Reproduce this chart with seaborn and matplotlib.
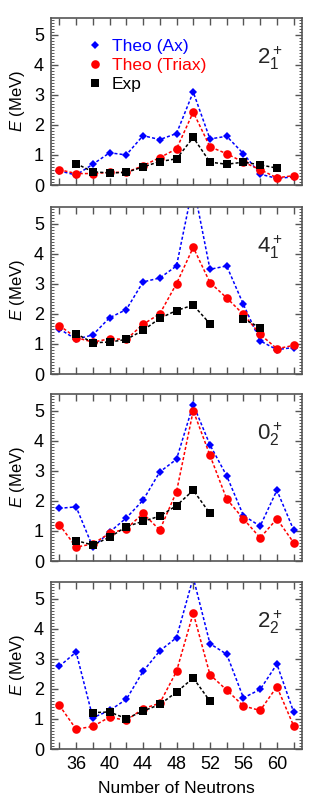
import numpy as np
import pandas as pd
import seaborn as sns
import matplotlib.pyplot as plt
from matplotlib.lines import Line2D
from matplotlib.ticker import MultipleLocator, FuncFormatter

# neutron numbers
neutrons = [34, 36, 38, 40, 42, 44, 46, 48, 50, 52, 54, 56, 58, 60, 62]
nan = np.nan

# 2_1+
ax_21 = [0.47, 0.33, 0.69, 1.07, 1.00, 1.64, 1.51, 1.71, 3.09, 1.53, 1.62, 1.04, 0.36, 0.22, 0.27]
tri_21 = [0.51, 0.38, 0.38, 0.42, 0.42, 0.64, 0.91, 1.20, 2.42, 1.27, 1.04, 0.76, 0.51, 0.24, 0.31]
exp_21 = [nan, 0.71, 0.44, 0.40, 0.42, 0.60, 0.78, 0.87, 1.58, 0.76, 0.69, 0.76, 0.67, 0.56, nan]

# 4_1+
ax_41 = [1.50, 1.15, 1.30, 1.87, 2.14, 3.06, 3.19, 3.59, 6.30, 3.48, 3.59, 2.31, 1.10, 0.81, 0.88]
tri_41 = [1.61, 1.21, 1.06, 1.17, 1.15, 1.65, 2.00, 3.00, 4.21, 3.04, 2.53, 1.98, 1.32, 0.84, 0.95]
exp_41 = [nan, 1.34, 1.04, 1.06, 1.15, 1.45, 1.85, 2.11, 2.29, 1.67, nan, 1.83, 1.54, nan, nan]

# 0_2+
ax_02 = [1.75, 1.80, 0.46, 0.96, 1.43, 2.02, 2.96, 3.38, 5.20, 3.86, 2.83, 1.51, 1.16, 2.35, 1.03]
tri_02 = [1.21, 0.46, 0.57, 0.92, 1.07, 1.58, 1.03, 2.30, 5.00, 3.51, 2.06, 1.40, 0.77, 1.40, 0.61]
exp_02 = [nan, 0.68, 0.53, 0.79, 1.14, 1.32, 1.49, 1.84, 2.35, 1.58, nan, nan, nan, nan, nan]

# 2_2+
ax_22 = [2.75, 3.22, 1.04, 1.28, 1.65, 2.58, 3.26, 3.70, 5.70, 3.50, 3.15, 1.70, 1.98, 2.82, 1.23]
tri_22 = [1.45, 0.66, 0.75, 1.06, 0.95, 1.34, 1.52, 2.58, 4.52, 2.47, 1.96, 1.43, 1.28, 2.07, 0.77]
exp_22 = [nan, nan, 1.21, 1.23, 1.01, 1.26, 1.48, 1.89, 2.36, 1.59, nan, nan, nan, nan, nan]

panels = [
    ("$2^+_1$", ax_21, tri_21, exp_21),
    ("$4^+_1$", ax_41, tri_41, exp_41),
    ("$0^+_2$", ax_02, tri_02, exp_02),
    ("$2^+_2$", ax_22, tri_22, exp_22),
]

sns.set_style("ticks")
plt.rcParams['font.family'] = ['Liberation Sans', 'DejaVu Sans']
plt.rcParams['mathtext.fontset'] = 'custom'
plt.rcParams['mathtext.rm'] = 'Liberation Sans'
plt.rcParams['mathtext.it'] = 'Liberation Sans:italic'

def to_frame(vals):
    # split series at gaps so the dashed line breaks there
    df = pd.DataFrame({'N': neutrons, 'E': vals})
    df['seg'] = df['E'].isna().cumsum()
    return df.dropna()

styles = [
    ('blue', 'D', 4.2, 'Theo (Ax)'),
    ('red', 'o', 6.2, 'Theo (Triax)'),
    ('black', 's', 5.5, 'Exp'),
]

fig = plt.figure(figsize=(3.11, 8.06), dpi=100)
tops = [18, 207, 394, 582]
h = 167
for i, (lab, a, t, e) in enumerate(panels):
    ax = fig.add_axes([51 / 311, 1 - (tops[i] + h) / 806, 251 / 311, h / 806])
    for (col, mk, ms, name), vals in zip(styles, [a, t, e]):
        df = to_frame(vals)
        sns.lineplot(data=df, x='N', y='E', units='seg', estimator=None, ax=ax,
                     color=col, lw=1.1, linestyle=(0, (2, 1.4)),
                     marker=mk, markersize=ms, markeredgewidth=0, legend=False)
    ax.set_xlim(33, 63)
    ax.set_ylim(0, 5.55)
    ax.xaxis.set_major_locator(MultipleLocator(2))
    ax.xaxis.set_major_formatter(FuncFormatter(lambda v, p: '%d' % v if int(round(v)) % 4 == 0 else ''))
    ax.yaxis.set_major_locator(MultipleLocator(1))
    ax.yaxis.set_minor_locator(MultipleLocator(0.1))
    ax.tick_params(which='both', direction='in', top=True, right=True, color='#555555',
                   labelcolor='black', labelsize=13)
    ax.tick_params(which='major', length=5, width=1, pad=5)
    ax.tick_params(which='minor', length=2.5, width=0.7)
    for s in ax.spines.values():
        s.set_color('#555555')
        s.set_linewidth(1.2)
    ax.set_ylabel('$E$ (MeV)', fontsize=12, labelpad=5, color='black')
    ax.text(0.87, 0.76, lab, transform=ax.transAxes, fontsize=16, ha='center', va='center')
    if i < 3:
        ax.tick_params(labelbottom=False)
        ax.set_xlabel('')
    else:
        ax.set_xlabel('Number of Neutrons', fontsize=12.5, labelpad=6, color='black')
    if i == 0:
        handles = [Line2D([], [], color=c, marker=m, markersize=ms, markeredgewidth=0, linestyle='none')
                   for c, m, ms, _ in styles]
        leg = ax.legend(handles, [s[3] for s in styles], loc='upper left', bbox_to_anchor=(0.08, 0.97),
                        frameon=False, fontsize=12.5, handlelength=1, handletextpad=0.45, labelspacing=0.22)
        for txt, (c, _, _, _) in zip(leg.get_texts(), styles):
            txt.set_color(c)

fig.savefig('out.png', dpi=100)
